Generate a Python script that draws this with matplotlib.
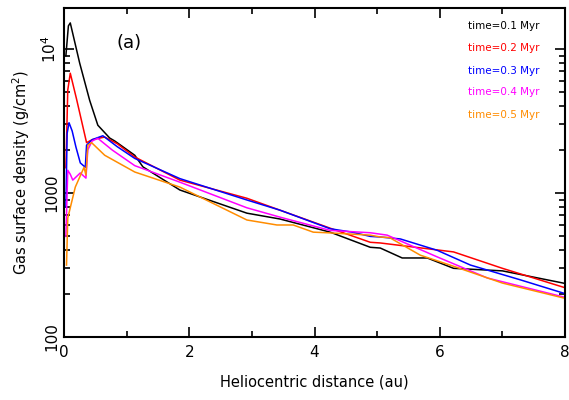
import matplotlib
matplotlib.use('Agg')
import matplotlib.pyplot as plt
from matplotlib.ticker import LogLocator, NullFormatter, FixedLocator, MultipleLocator

plt.rcParams['font.family'] = ['DejaVu Sans']

# time=0.1 Myr
r_1 = [0.03, 0.07, 0.10, 0.25, 0.41, 0.54, 0.73, 0.81, 1.13, 1.26, 1.85, 2.17, 2.92, 3.45, 4.25, 4.89, 5.05, 5.40, 5.80, 6.22, 7.00, 7.97, 8.0]
sig_1 = [9000, 14500, 15200, 8000, 4400, 2960, 2410, 2300, 1830, 1520, 1050, 940, 725, 660, 535, 420, 415, 354, 354, 300, 288, 237, 235]

# time=0.2 Myr
r_2 = [0.03, 0.06, 0.10, 0.20, 0.36, 0.45, 0.65, 0.85, 1.13, 1.85, 2.92, 3.45, 4.25, 4.89, 5.05, 6.22, 7.00, 7.97, 8.0]
sig_2 = [1500, 5200, 6800, 4500, 2240, 2350, 2450, 2200, 1780, 1230, 920, 760, 570, 455, 450, 390, 300, 222, 220]

# time=0.3 Myr
r_3 = [0.03, 0.05, 0.08, 0.13, 0.19, 0.26, 0.34, 0.36, 0.45, 0.62, 0.85, 1.13, 1.85, 2.92, 3.45, 4.25, 4.60, 4.89, 5.05, 5.37, 5.96, 6.49, 7.28, 7.97, 8.0]
sig_3 = [800, 2600, 3080, 2700, 2090, 1620, 1510, 2150, 2350, 2500, 2100, 1740, 1260, 895, 760, 565, 535, 500, 495, 480, 400, 316, 250, 202, 200]

# time=0.4 Myr
r_4 = [0.03, 0.06, 0.10, 0.14, 0.26, 0.35, 0.38, 0.45, 0.54, 0.77, 1.13, 1.85, 2.92, 3.45, 4.25, 4.89, 5.16, 5.96, 6.76, 7.97, 8.0]
sig_4 = [500, 1440, 1350, 1230, 1380, 1270, 2000, 2300, 2400, 1990, 1550, 1190, 790, 680, 550, 530, 510, 360, 257, 190, 189]

# time=0.5 Myr
r_5 = [0.04, 0.06, 0.18, 0.32, 0.35, 0.38, 0.44, 0.65, 1.13, 1.85, 2.92, 3.40, 3.66, 3.98, 4.20, 4.89, 5.05, 5.20, 5.69, 6.22, 7.00, 7.97, 8.0]
sig_5 = [316, 670, 1100, 1510, 1330, 2150, 2240, 1830, 1400, 1100, 650, 600, 600, 535, 530, 510, 495, 490, 370, 310, 237, 187, 186]

labels = ['time=0.1 Myr', 'time=0.2 Myr', 'time=0.3 Myr', 'time=0.4 Myr', 'time=0.5 Myr']
colors = ['black', 'red', 'blue', 'magenta', 'darkorange']
series = [(r_1, sig_1), (r_2, sig_2), (r_3, sig_3), (r_4, sig_4), (r_5, sig_5)]

fig = plt.figure(figsize=(5.69, 4.0), dpi=100)
ax = fig.add_axes([0.1125, 0.1575, 0.8805, 0.8225])

for (r, s), c in zip(series, colors):
    ax.plot(r, s, color=c, lw=1.1)

ax.set_xlim(0, 8)
ax.set_yscale('log')
ax.set_ylim(100, 19300)

ax.xaxis.set_major_locator(MultipleLocator(2))
ax.xaxis.set_minor_locator(MultipleLocator(1))
ax.yaxis.set_major_locator(FixedLocator([100, 1000, 10000]))
ax.yaxis.set_minor_locator(LogLocator(base=10, subs=range(2, 10)))
ax.yaxis.set_minor_formatter(NullFormatter())
ax.set_yticklabels(['100', '1000', '10$^4$'], rotation=90, va='center')

ax.tick_params(which='both', direction='in', top=True, right=True, width=1.2, labelsize=11)
ax.tick_params(which='major', length=7)
ax.tick_params(which='minor', length=4)
ax.tick_params(axis='x', pad=6)
for sp in ax.spines.values():
    sp.set_linewidth(1.5)

ax.set_xlabel('Heliocentric distance (au)', fontsize=10.5, labelpad=10)
ax.set_ylabel('Gas surface density (g/cm$^2$)', fontsize=10.5, labelpad=6)

ax.text(0.13, 0.895, '(a)', transform=ax.transAxes, fontsize=13, ha='center', va='center')

ys = [26, 48, 71, 92, 115]
for lab, c, y in zip(labels, colors, ys):
    fig.text(539 / 569, 1 - y / 400, lab, color=c, fontsize=7.5, ha='right', va='center')

fig.savefig('out.png', dpi=100)
